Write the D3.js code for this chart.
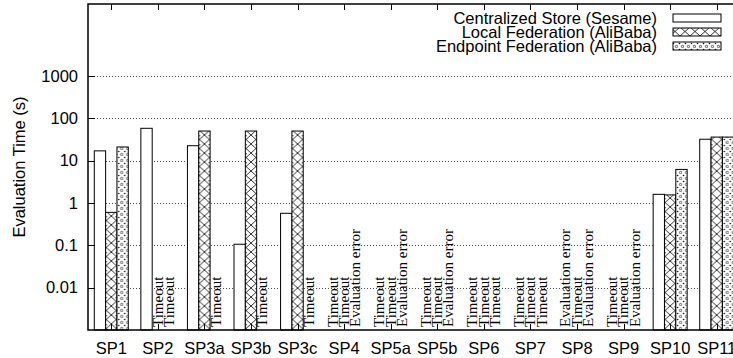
<!DOCTYPE html>
<html>
<head>
<meta charset="utf-8">
<script src="https://cdn.jsdelivr.net/npm/d3@7"></script>
<style>
  html, body { margin: 0; padding: 0; background: #fff; }
  svg { display: block; }
</style>
</head>
<body>
<svg id="chart" width="733" height="358"></svg>
<script>
// Query names along the x axis
const categories = ["SP1", "SP2", "SP3a", "SP3b", "SP3c", "SP4", "SP5a", "SP5b",
                    "SP6", "SP7", "SP8", "SP9", "SP10", "SP11"];

// Series shown in the legend
const seriesNames = ["Centralized Store (Sesame)", "Local Federation (AliBaba)",
                     "Endpoint Federation (AliBaba)"];

// Evaluation times in seconds; a string marks a query that produced no time
const centralized = [17, 58, 22.5, 0.106, 0.57, "Timeout", "Timeout", "Timeout",
                     "Timeout", "Timeout", "Evaluation error", "Timeout", 1.6, 32];
const localFed    = [0.6, "Timeout", 50, 50, 50, "Timeout", "Timeout", "Timeout",
                     "Timeout", "Timeout", "Timeout", "Timeout", 1.55, 36];
const endpointFed = [21, "Timeout", "Timeout", "Timeout", "Timeout", "Evaluation error",
                     "Evaluation error", "Evaluation error", "Timeout", "Timeout",
                     "Evaluation error", "Evaluation error", 6.2, 36];

// Y axis ticks
const yTicks = [0.01, 0.1, 1, 10, 100, 1000];
const yTickLabels = ["0.01", "0.1", "1", "10", "100", "1000"];

const seriesValues = [centralized, localFed, endpointFed];

const svg = d3.select("#chart");
const plotLeft = 88, plotTop = 4, plotBottom = 330, plotRight = 740;

const x = d3.scaleBand().domain(categories).range([plotLeft, plotRight]).padding(0);
const groupWidth = x.bandwidth() * 0.73;
const xs = d3.scaleBand().domain(d3.range(3)).range([-groupWidth / 2, groupWidth / 2]).padding(0);
const y = d3.scaleLog().domain([0.001, 50000]).range([plotBottom, plotTop]);

// Fill patterns
const defs = svg.append("defs");
const pX = defs.append("pattern").attr("id", "pat-cross")
  .attr("patternUnits", "userSpaceOnUse").attr("width", 10).attr("height", 9);
pX.append("rect").attr("width", 10).attr("height", 9).attr("fill", "#fff");
pX.append("path").attr("d", "M0,0 L10,9 M10,0 L0,9")
  .attr("stroke", "#000").attr("stroke-width", 0.8).attr("fill", "none");
pX.append("circle").attr("cx", 5).attr("cy", 0.8).attr("r", 0.7).attr("fill", "#000");

const pD = defs.append("pattern").attr("id", "pat-dots")
  .attr("patternUnits", "userSpaceOnUse").attr("width", 6).attr("height", 6);
pD.append("rect").attr("width", 6).attr("height", 6).attr("fill", "#fff");
pD.append("circle").attr("cx", 1.5).attr("cy", 1.5).attr("r", 0.8).attr("fill", "#000");
pD.append("circle").attr("cx", 4.5).attr("cy", 4.5).attr("r", 1.2)
  .attr("fill", "none").attr("stroke", "#000").attr("stroke-width", 0.6);

const fills = ["#fff", "url(#pat-cross)", "url(#pat-dots)"];

// Dotted grid at each decade
svg.append("g").selectAll("line").data(yTicks).join("line")
  .attr("x1", plotLeft).attr("x2", plotRight)
  .attr("y1", d => Math.round(y(d)) + 0.5).attr("y2", d => Math.round(y(d)) + 0.5)
  .attr("stroke", "#555").attr("stroke-width", 1).attr("stroke-dasharray", "1,2");

// Bars, or a rotated note where a query gave no time
const groups = svg.append("g").selectAll("g").data(categories).join("g")
  .attr("transform", d => `translate(${x(d) + x.bandwidth() / 2},0)`);

groups.each(function(cat, ci) {
  const g = d3.select(this);
  seriesValues.forEach((vals, si) => {
    const v = vals[ci];
    if (typeof v === "number") {
      g.append("rect")
        .attr("x", xs(si)).attr("width", xs.bandwidth())
        .attr("y", y(v)).attr("height", plotBottom - y(v))
        .attr("fill", fills[si]).attr("stroke", "#000").attr("stroke-width", 1);
    } else {
      g.append("text")
        .attr("transform", `translate(${xs(si) + xs.bandwidth() / 2},${plotBottom - 3}) rotate(-90)`)
        .attr("dy", "0.32em")
        .attr("font-family", "Liberation Serif, Times New Roman, serif")
        .attr("font-size", 15)
        .attr("fill", "#000")
        .text(v);
    }
  });
});

// Ticks along the bottom and top at each category, and on the left at each decade
const tickG = svg.append("g");
categories.forEach(c => {
  const cx = Math.round(x(c) + x.bandwidth() / 2) + 0.5;
  tickG.append("line").attr("x1", cx).attr("x2", cx).attr("y1", plotBottom).attr("y2", plotBottom - 6)
    .attr("stroke", "#000");
  tickG.append("line").attr("x1", cx).attr("x2", cx).attr("y1", plotTop).attr("y2", plotTop + 6)
    .attr("stroke", "#000");
});
yTicks.forEach(t => {
  const ty = Math.round(y(t)) + 0.5;
  tickG.append("line").attr("x1", plotLeft).attr("x2", plotLeft + 7).attr("y1", ty).attr("y2", ty)
    .attr("stroke", "#000");
});

// Frame
svg.append("path")
  .attr("d", `M${plotRight},${plotTop} H${plotLeft} V${plotBottom} H${plotRight}`)
  .attr("fill", "none").attr("stroke", "#000").attr("stroke-width", 1.5);

const sans = "Liberation Sans, Arial, Helvetica, sans-serif";
const fs = 16.5;

// Category labels
svg.append("g").selectAll("text").data(categories).join("text")
  .attr("x", d => x(d) + x.bandwidth() / 2).attr("y", 354)
  .attr("text-anchor", "middle").attr("font-family", sans).attr("font-size", fs)
  .text(d => d);

// Y tick labels
svg.append("g").selectAll("text").data(yTicks).join("text")
  .attr("x", 78).attr("y", d => y(d)).attr("dy", "0.35em")
  .attr("text-anchor", "end").attr("font-family", sans).attr("font-size", fs)
  .text((d, i) => yTickLabels[i]);

// Y axis title
svg.append("text")
  .attr("transform", `translate(19,${(plotTop + plotBottom) / 2}) rotate(-90)`)
  .attr("text-anchor", "middle").attr("dy", "0.35em")
  .attr("font-family", sans).attr("font-size", fs)
  .text("Evaluation Time (s)");

// Legend
const legend = svg.append("g");
seriesNames.forEach((name, i) => {
  const cy = 18 + i * 14;
  legend.append("text").attr("x", 657).attr("y", cy).attr("dy", "0.35em")
    .attr("text-anchor", "end").attr("font-family", sans).attr("font-size", fs)
    .text(name);
  legend.append("rect").attr("x", 673).attr("y", cy - 4).attr("width", 48).attr("height", 8)
    .attr("fill", fills[i]).attr("stroke", "#000").attr("stroke-width", 1);
});
</script>
</body>
</html>
